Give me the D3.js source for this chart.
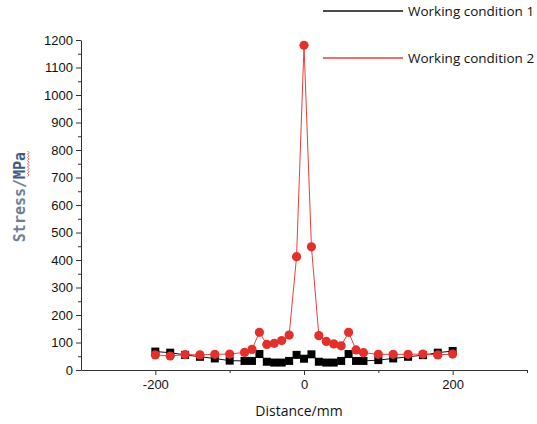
<!DOCTYPE html>
<html><head><meta charset="utf-8">
<script src="https://cdn.jsdelivr.net/npm/d3@7"></script>
<style>body{margin:0;background:#fff}svg{display:block}.tk text{font-family:"Liberation Sans",Arial,sans-serif;font-size:13px;fill:#111}</style>
</head><body>
<script>
const distance = [-200,-180,-160,-140,-120,-100,-80,-70,-60,-50,-40,-30,-20,-10,0,10,20,30,40,50,60,70,80,100,120,140,160,180,200];
const condition1 = [67,63,55,48,42,34,33,33,58,30,27,27,33,55,41,57,30,27,27,33,58,33,33,36,42,48,54,63,69];
const condition2 = [55,51,56,55,57,58,64,75,137,93,97,107,127,412,1181,448,125,104,95,88,137,73,63,57,57,57,58,55,58];
const seriesNames = ["Working condition 1","Working condition 2"];
const xTicks = [-200,0,200];
const yTicks = [0,100,200,300,400,500,600,700,800,900,1000,1100,1200];

const W=537,H=424;
const svg=d3.select("body").append("svg").attr("width",W).attr("height",H);
const x=d3.scaleLinear().domain([-300,300]).range([81,527]);
const y=d3.scaleLinear().domain([0,1200]).range([370,40]);
const axisCol="#333";
const fmt=d=>String(d).replace("\u2212","-");

// y axis
const gy=svg.append("g").attr("class","tk").attr("transform","translate(81,0)");
gy.call(d3.axisLeft(y).tickValues(yTicks).tickSize(5).tickSizeOuter(0).tickPadding(3).tickFormat(fmt));
gy.append("g").call(d3.axisLeft(y).tickValues(d3.range(50,1200,100)).tickSize(3).tickFormat(""));
gy.selectAll("g g .domain").remove();
gy.selectAll("path.domain").attr("stroke",axisCol);
gy.selectAll("line").attr("stroke",axisCol);
gy.attr("font-family",null).attr("font-size",null);

// x axis
const gx=svg.append("g").attr("class","tk").attr("transform","translate(0,370)");
gx.call(d3.axisBottom(x).tickValues(xTicks).tickSize(5).tickSizeOuter(0).tickPadding(5).tickFormat(fmt));
gx.append("g").call(d3.axisBottom(x).tickValues([-100,100,300]).tickSize(3).tickFormat(""));
gx.selectAll("g g .domain").remove();
gx.selectAll("path.domain").attr("stroke",axisCol);
gx.selectAll("line").attr("stroke",axisCol);
gx.attr("font-family",null).attr("font-size",null);

// labels
svg.append("text").attr("x",299).attr("y",416).attr("text-anchor","middle")
  .attr("font-family","Open Sans, sans-serif").attr("font-size",14).attr("fill","#111").text("Distance/mm");
const yl=svg.append("text").attr("transform","translate(25,197) rotate(-90)").attr("text-anchor","middle")
  .attr("font-family","DejaVu Sans Mono, monospace").attr("font-weight","bold").attr("font-size",15).attr("fill","#6f7f98");
yl.append("tspan").text("Stress/");
yl.append("tspan").attr("fill","#3f5a86").text("MPa");
// wavy underline for MPa (spell-check mark)
const wave=[];for(let i=0;i<=16;i++){wave.push([27.5+(i%2?1.6:0),151+i*1.6]);}
svg.append("path").attr("d",d3.line()(wave)).attr("fill","none").attr("stroke","#e03a3a").attr("stroke-width",0.8);

const line=d3.line().x((d,i)=>x(distance[i])).y(d=>y(d));
// series 1
svg.append("path").datum(condition1).attr("d",line).attr("fill","none").attr("stroke","#111").attr("stroke-width",1);
svg.selectAll(".sq").data(condition1).enter().append("rect")
  .attr("x",(d,i)=>x(distance[i])-4).attr("y",d=>y(d)-4).attr("width",8).attr("height",8).attr("fill","#000");
// series 2
svg.append("path").datum(condition2).attr("d",line).attr("fill","none").attr("stroke","#e8403a").attr("stroke-width",1);
svg.selectAll(".ci").data(condition2).enter().append("circle")
  .attr("cx",(d,i)=>x(distance[i])).attr("cy",d=>y(d)).attr("r",4.6).attr("fill","#e3302b");

// legend
const leg=[{c:"#111",y:11},{c:"#e8403a",y:58}];
leg.forEach((l,i)=>{
  svg.append("line").attr("x1",323).attr("x2",403).attr("y1",l.y).attr("y2",l.y).attr("stroke",l.c).attr("stroke-width",1.5);
  svg.append("text").attr("x",408).attr("y",l.y+5).attr("font-family","Open Sans, sans-serif").attr("font-size",13.5)
    .attr("fill","#111").text(seriesNames[i]);
});
</script>
</body></html>
